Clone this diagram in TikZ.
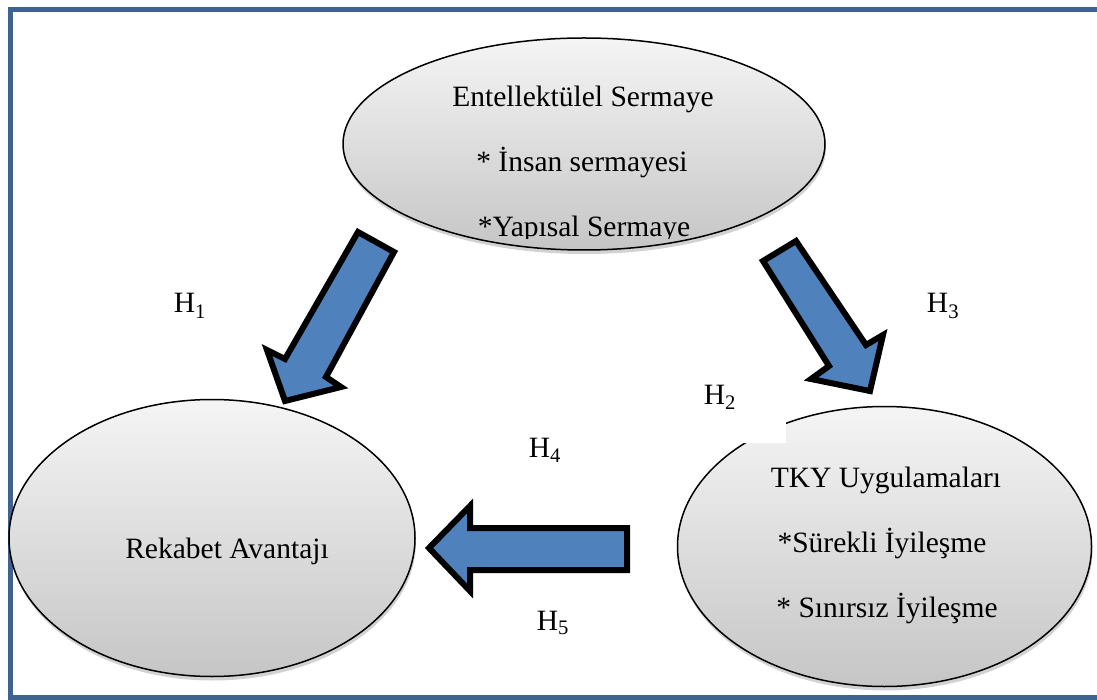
\documentclass[tikz,border=0pt]{standalone}
\usepackage{fontspec}
\setmainfont{Liberation Serif}
\usetikzlibrary{shapes.geometric,shadows}
\definecolor{framecol}{HTML}{3F6391}
\definecolor{arrowblue}{HTML}{4F81BD}
\tikzset{
  bubble/.style={ellipse, draw=black, line width=1.5pt, top color=gray!8, bottom color=gray!45,
    drop shadow={opacity=0.35, shadow xshift=1pt, shadow yshift=-4pt}},
  blockarrow/.style={fill=arrowblue, draw=black, line width=6pt, line join=miter},
  txt/.style={anchor=base, inner sep=0pt, font=\fontsize{29.5}{32}\selectfont},
  hlab/.style={anchor=base, inner sep=0pt, font=\fontsize{29.5}{32}\selectfont}
}
\begin{document}
\begin{tikzpicture}[x=1pt,y=-1pt]
\useasboundingbox (0,0) rectangle (1097,700);
\fill[white] (0,0) rectangle (1097,700);
\draw[framecol, line width=5pt] (1110,10) -- (10,10) -- (10,697) -- (1110,697);

% ellipses
\node[bubble, minimum width=482pt, minimum height=212pt, inner sep=0pt] (es) at (584,144) {};
\node[bubble, minimum width=406pt, minimum height=277pt, inner sep=0pt] (ra) at (212,538) {};
\node[bubble, minimum width=414pt, minimum height=280pt, inner sep=0pt] (tky) at (884.5,546.5) {};

% white box covering top of TKY ellipse (H2 text box)
\fill[white] (690,372) rectangle (786,443);

% block arrows
\draw[blockarrow] (358,232) -- (394,252) -- (326,377) -- (341,387) -- (285,401) -- (267,350) -- (285,359) -- cycle;
\draw[blockarrow] (763,261) -- (796,241) -- (866,345) -- (883,335) -- (870,391) -- (811,379) -- (829,366) -- cycle;
\draw[blockarrow] (429,548) -- (470,506) -- (470,528) -- (627,528) -- (627,570) -- (470,570) -- (470,591) -- cycle;

% texts
\node[txt] (t1) at (583,107) {Entellektülel Sermaye};
\node[txt] (t2) at (582,172) {* İnsan sermayesi};
\begin{scope}
\clip (340,190) rectangle (830,239);
\node[txt] (t3) at (584,237) {*Yapısal Sermaye};
\end{scope}
\node[txt] (r1) at (227,558) {Rekabet Avantajı};
\node[txt] (k1) at (886,487) {TKY Uygulamaları};
\node[txt] (k2) at (882,552) {*Sürekli İyileşme};
\node[txt] (k3) at (887,617) {* Sınırsız İyileşme};

\node[hlab] (h1) at (190,313) {H\textsubscript{1}};
\node[hlab] (h3) at (943,313) {H\textsubscript{3}};
\node[hlab] (h2) at (720,404) {H\textsubscript{2}};
\node[hlab] (h4) at (545,457) {H\textsubscript{4}};
\node[hlab] (h5) at (553,630) {H\textsubscript{5}};
\end{tikzpicture}
\end{document}
